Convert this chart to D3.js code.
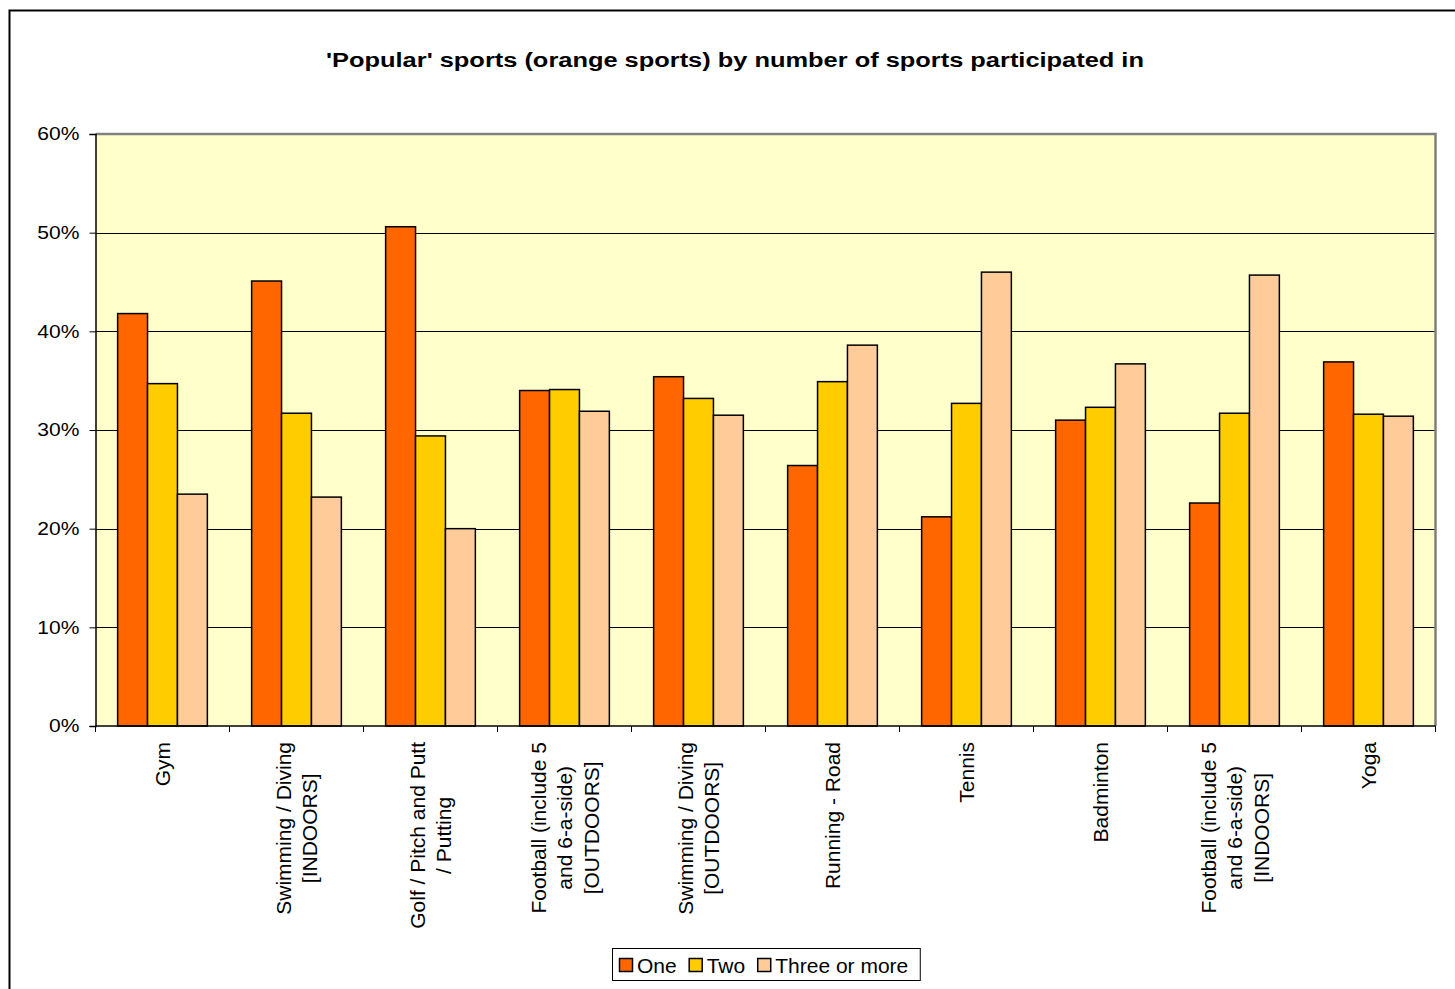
<!DOCTYPE html>
<html>
<head>
<meta charset="utf-8">
<script src="https://cdn.jsdelivr.net/npm/d3@7"></script>
<style>
  html, body { margin: 0; padding: 0; background: #ffffff; }
  svg { display: block; font-family: "Liberation Sans", Arial, sans-serif; }
</style>
</head>
<body>
<svg id="chart" width="1455" height="989"></svg>
<script>
// Participation share by sport, split by how many sports a person takes part in
const categories = [
  ["Gym"],
  ["Swimming / Diving", "[INDOORS]"],
  ["Golf / Pitch and Putt", "/ Putting"],
  ["Football (include 5", "and 6-a-side)", "[OUTDOORS]"],
  ["Swimming / Diving", "[OUTDOORS]"],
  ["Running - Road"],
  ["Tennis"],
  ["Badminton"],
  ["Football (include 5", "and 6-a-side)", "[INDOORS]"],
  ["Yoga"]
];
const seriesNames = ["One", "Two", "Three or more"];
const oneValues   = [41.8, 45.1, 50.6, 34.0, 35.4, 26.4, 21.2, 31.0, 22.6, 36.9];
const twoValues   = [34.7, 31.7, 29.4, 34.1, 33.2, 34.9, 32.7, 32.3, 31.7, 31.6];
const threeValues = [23.5, 23.2, 20.0, 31.9, 31.5, 38.6, 46.0, 36.7, 45.7, 31.4];
const yTicks = [0, 10, 20, 30, 40, 50, 60];
const seriesColors = ["#ff6600", "#ffcc00", "#ffcc99"];
const titleText = "'Popular' sports (orange sports) by number of sports participated in";

const series = [oneValues, twoValues, threeValues];
const svg = d3.select("#chart");

// outer chart frame
svg.append("rect")
  .attr("x", 9.5).attr("y", 10.5)
  .attr("width", 1480).attr("height", 1000)
  .attr("fill", "#ffffff").attr("stroke", "#000").attr("stroke-width", 2);

const plot = { left: 95.5, right: 1435.5, top: 134, bottom: 726 };

const x0 = d3.scaleBand()
  .domain(d3.range(categories.length))
  .range([plot.left, plot.right])
  .paddingInner(0).paddingOuter(0);

const x1 = d3.scaleBand()
  .domain(d3.range(series.length))
  .range([0, x0.bandwidth()])
  .paddingInner(0)
  .paddingOuter(0.74);

const y = d3.scaleLinear().domain([0, 60]).range([plot.bottom, plot.top]);

// plot background
svg.append("rect")
  .attr("x", plot.left).attr("y", plot.top)
  .attr("width", plot.right - plot.left).attr("height", plot.bottom - plot.top)
  .attr("fill", "#ffffcc");

// horizontal gridlines
svg.append("g")
  .selectAll("line")
  .data(yTicks.filter(t => t > 0 && t < 60))
  .join("line")
  .attr("x1", plot.left).attr("x2", plot.right)
  .attr("y1", d => Math.round(y(d)) + 0.5).attr("y2", d => Math.round(y(d)) + 0.5)
  .attr("stroke", "#000").attr("stroke-width", 1);

// plot frame: grey on top and right
svg.append("path")
  .attr("d", `M${plot.left},${plot.top} H${plot.right} V${plot.bottom}`)
  .attr("fill", "none").attr("stroke", "#808080").attr("stroke-width", 2.5);

// bars
const groups = svg.append("g")
  .selectAll("g")
  .data(categories.map((c, i) => i))
  .join("g")
  .attr("transform", i => `translate(${x0(i)},0)`);

groups.selectAll("rect")
  .data(i => series.map((s, k) => ({ k, v: s[i] })))
  .join("rect")
  .attr("x", d => x1(d.k))
  .attr("y", d => y(d.v))
  .attr("width", x1.bandwidth())
  .attr("height", d => y(0) - y(d.v))
  .attr("fill", d => seriesColors[d.k])
  .attr("stroke", "#000")
  .attr("stroke-width", 1.5);

// y axis
const yAxis = d3.axisLeft(y)
  .tickValues(yTicks)
  .tickSize(6)
  .tickFormat(d => d + "%");
const yg = svg.append("g")
  .attr("transform", `translate(${plot.left},0)`)
  .call(yAxis);
yg.select(".domain").attr("stroke", "#000").attr("stroke-width", 1.5);
yg.selectAll(".tick line").attr("stroke", "#000");
// labels are drawn slightly wide, right-aligned just left of the tick
yg.selectAll(".tick text")
  .attr("x", 0)
  .attr("transform", "translate(-16,0) scale(1.17,1)")
  .attr("font-size", 18).attr("fill", "#000")
  .attr("font-family", "Liberation Sans, Arial, sans-serif");

// x axis: ticks on the category boundaries
const xAxisG = svg.append("g");
xAxisG.append("line")
  .attr("x1", plot.left).attr("x2", plot.right)
  .attr("y1", plot.bottom).attr("y2", plot.bottom)
  .attr("stroke", "#000").attr("stroke-width", 1.5);
xAxisG.selectAll("line.tick")
  .data(d3.range(categories.length + 1))
  .join("line")
  .attr("class", "tick")
  .attr("x1", i => i < categories.length ? x0(i) : plot.right)
  .attr("x2", i => i < categories.length ? x0(i) : plot.right)
  .attr("y1", plot.bottom).attr("y2", plot.bottom + 6)
  .attr("stroke", "#000").attr("stroke-width", 1);

// rotated, multi-line category labels
const lineGap = 26.5;
const labelTop = 742;
const labelG = svg.append("g")
  .selectAll("g")
  .data(categories)
  .join("g")
  .attr("transform", (d, i) => `translate(${x0(i) + x0.bandwidth() / 2},${labelTop}) rotate(-90)`);

labelG.each(function (lines) {
  const g = d3.select(this);
  const texts = g.selectAll("text")
    .data(lines)
    .join("text")
    .attr("font-size", 21)
    .attr("fill", "#000")
    .attr("text-anchor", "middle")
    .attr("dominant-baseline", "central")
    .attr("y", (d, j) => (j - (lines.length - 1) / 2) * lineGap)
    .text(d => d);
  let maxLen = 0;
  texts.each(function () { maxLen = Math.max(maxLen, this.getComputedTextLength()); });
  texts.attr("x", -maxLen / 2);
});

// title, set wide
svg.append("text")
  .attr("transform", "translate(735,60) scale(1.27,1)")
  .attr("text-anchor", "middle")
  .attr("dominant-baseline", "central")
  .attr("font-size", 20)
  .attr("font-weight", "bold")
  .attr("fill", "#000")
  .text(titleText);

// legend
const legend = svg.append("g");
const legendBox = legend.append("rect")
  .attr("x", 612.5).attr("y", 948.5)
  .attr("height", 32)
  .attr("fill", "#fff").attr("stroke", "#000").attr("stroke-width", 1);
let lx = 619;
seriesNames.forEach((name, k) => {
  legend.append("rect")
    .attr("x", lx + 0.5).attr("y", 958.5)
    .attr("width", 13).attr("height", 13)
    .attr("fill", seriesColors[k]).attr("stroke", "#000").attr("stroke-width", 1.5);
  const t = legend.append("text")
    .attr("x", lx + 18).attr("y", 965)
    .attr("dominant-baseline", "central")
    .attr("font-size", 21)
    .attr("fill", "#000")
    .text(name);
  lx += 18 + t.node().getComputedTextLength() + 12;
});
legendBox.attr("width", lx - 612.5);
</script>
</body>
</html>
